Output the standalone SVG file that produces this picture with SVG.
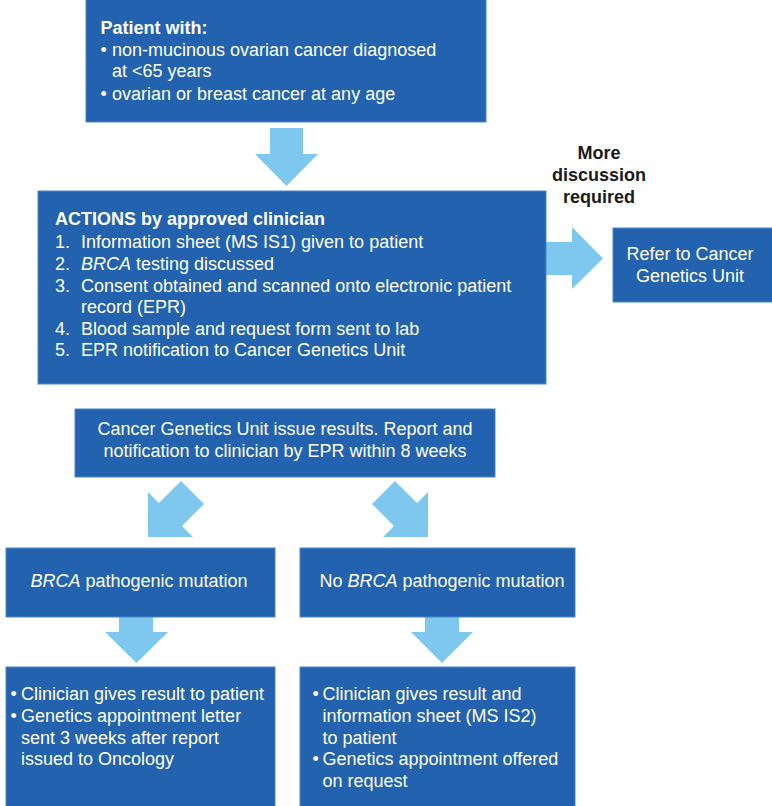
<svg xmlns="http://www.w3.org/2000/svg" width="772" height="806" viewBox="0 0 772 806">
<style>
.box{fill:#2262ae;stroke:#4a86c8;stroke-width:1}
.arr{fill:#7ec8ef}
text{font-family:"Liberation Sans",Arial,sans-serif;font-size:18px;fill:#ffffff}
.b{font-weight:bold}
.c{text-anchor:middle}
.dark{fill:#1a1a1a}
.i{font-style:italic}
</style>
<rect width="772" height="806" fill="#ffffff"/>
<g id="connectors">
<polygon class="arr" points="270,128 303,128 303,154 318,154 286.5,186 255,154 270,154"/>
<polygon class="arr" points="546,242 572,242 572,227 603,258.5 572,289 572,275 546,275"/>
<polygon class="arr" points="181,481 204,504 182,526 193,537 148,537 148,492 159,503"/>
<polygon class="arr" points="395,481 372,504 394,526 383,537 428,537 428,492 417,503"/>
<polygon class="arr" points="119,617 153,617 153,632 168,632 136.5,663 105,632 119,632"/>
<polygon class="arr" points="425,617 459,617 459,632 473,632 442,663 411,632 425,632"/>
<g id="label-more">
<text class="b c dark" x="599" y="159">More</text>
<text class="b c dark" x="599" y="181">discussion</text>
<text class="b c dark" x="599" y="203">required</text>
</g>
</g>
<g id="patient">
<rect class="box" x="86" y="-1" width="400" height="123"/>
<text class="b" x="100.5" y="34">Patient with:</text>
<text x="100.5" y="55.5">•</text><text x="112" y="55.5">non-mucinous ovarian cancer diagnosed</text>
<text x="112" y="77">at &lt;65 years</text>
<text x="100.5" y="99.5">•</text><text x="112" y="99.5">ovarian or breast cancer at any age</text>
</g>
<g id="actions">
<rect class="box" x="38" y="191" width="508" height="193"/>
<text class="b" x="55" y="225">ACTIONS by approved clinician</text>
<text x="55" y="247.5">1.</text><text x="81" y="247.5">Information sheet (MS IS1) given to patient</text>
<text x="55" y="269.5">2.</text><text x="81" y="269.5"><tspan class="i">BRCA</tspan> testing discussed</text>
<text x="55" y="291.5">3.</text><text x="81" y="291.5">Consent obtained and scanned onto electronic patient</text>
<text x="81" y="313">record (EPR)</text>
<text x="55" y="334.5">4.</text><text x="81" y="334.5">Blood sample and request form sent to lab</text>
<text x="55" y="356">5.</text><text x="81" y="356">EPR notification to Cancer Genetics Unit</text>
</g>
<g id="refer">
<rect class="box" x="613" y="228" width="160" height="74"/>
<text class="c" x="690" y="259.5">Refer to Cancer</text>
<text class="c" x="690" y="282">Genetics Unit</text>
</g>
<g id="results">
<rect class="box" x="75" y="409" width="420" height="68"/>
<text class="c" x="285" y="435">Cancer Genetics Unit issue results. Report and</text>
<text class="c" x="285" y="457">notification to clinician by EPR within 8 weeks</text>
</g>
<g id="brca-pos">
<rect class="box" x="6" y="548" width="269" height="69"/>
<text class="c" x="139" y="587"><tspan class="i">BRCA</tspan> pathogenic mutation</text>
</g>
<g id="brca-neg">
<rect class="box" x="300" y="548" width="275" height="69"/>
<text class="c" x="442" y="587">No <tspan class="i">BRCA</tspan> pathogenic mutation</text>
</g>
<g id="pos-actions">
<rect class="box" x="6" y="667" width="269" height="140"/>
<text x="10.5" y="700">•</text><text x="21" y="700">Clinician gives result to patient</text>
<text x="10.5" y="722">•</text><text x="21" y="722">Genetics appointment letter</text>
<text x="21" y="743.5">sent 3 weeks after report</text>
<text x="21" y="765">issued to Oncology</text>
</g>
<g id="neg-actions">
<rect class="box" x="300" y="667" width="275" height="140"/>
<text x="312.5" y="700">•</text><text x="322.5" y="700">Clinician gives result and</text>
<text x="322.5" y="722">information sheet (MS IS2)</text>
<text x="322.5" y="743.5">to patient</text>
<text x="312.5" y="765">•</text><text x="322.5" y="765">Genetics appointment offered</text>
<text x="322.5" y="787">on request</text>
</g>
</svg>
